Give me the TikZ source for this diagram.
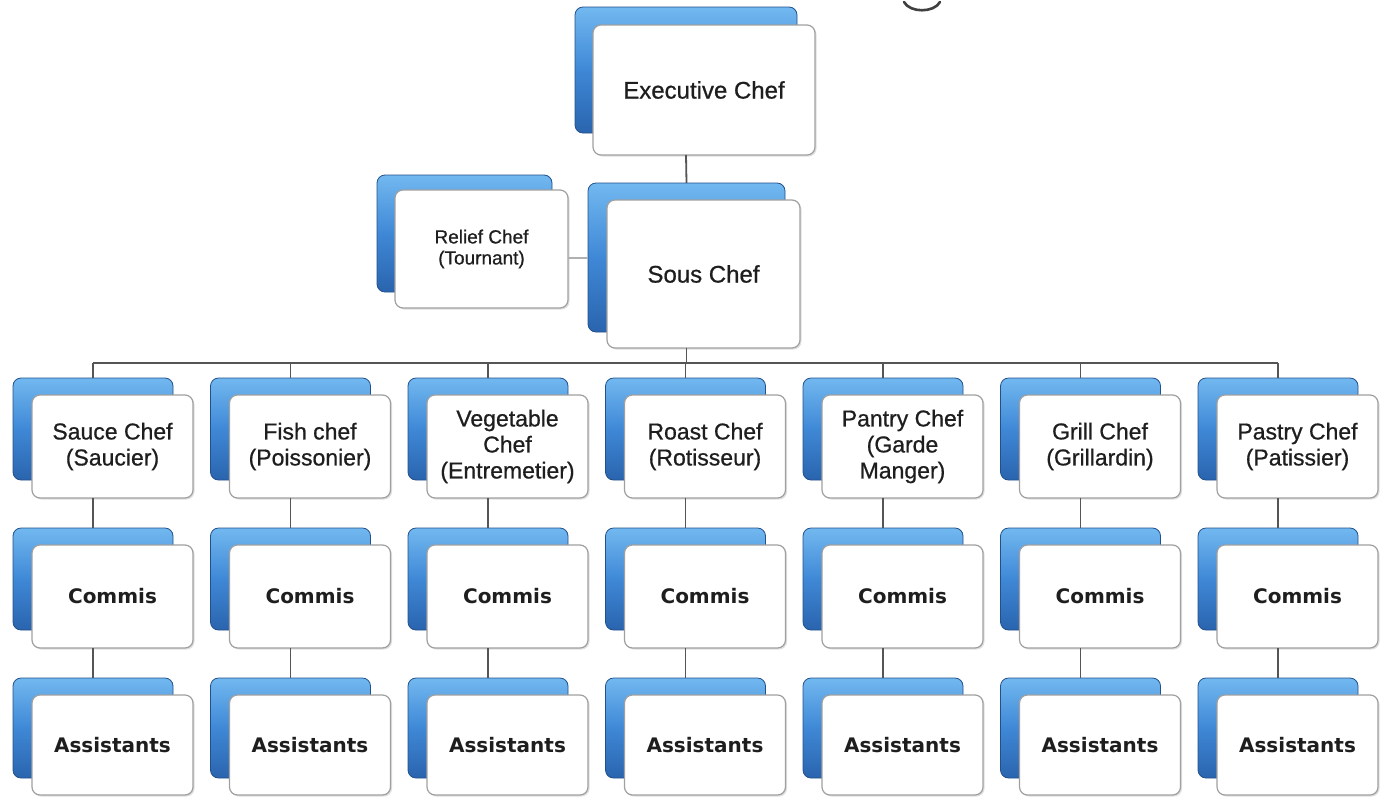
\documentclass[tikz,border=0pt]{standalone}
\usepackage{fontspec}
\setmainfont{Liberation Sans}[FakeBold=0.7]
\newfontfamily\djv{DejaVu Sans}
\usetikzlibrary{shadows}
\definecolor{bluetop}{HTML}{72B8F0}
\definecolor{bluemid}{HTML}{3F88D6}
\definecolor{bluebot}{HTML}{2A64AE}
\definecolor{edgegray}{HTML}{A0A0A0}
\definecolor{linegray}{HTML}{555555}
\definecolor{lightline}{HTML}{B0B0B0}
\definecolor{textgray}{HTML}{1E1E1E}
\tikzset{
  backbox/.style={rounded corners=8pt, inner sep=0pt, outer sep=0pt,
    top color=bluetop, bottom color=bluebot, middle color=bluemid,
    draw=bluebot!80!black, line width=0.8pt},
  frontbox/.style={rounded corners=8pt, inner sep=0pt, outer sep=0pt,
    fill=white, draw=edgegray, line width=1.2pt, align=center, text=textgray,
    drop shadow={opacity=0.25, shadow xshift=1.5pt, shadow yshift=-1.5pt}},
  bigtext/.style={font=\fontsize{24}{28}\selectfont},
  cheftext/.style={font=\fontsize{23}{26}\selectfont},
  relieftext/.style={font=\fontsize{19}{21}\selectfont},
  lowtext/.style={font=\djv\bfseries\fontsize{20}{24}\selectfont},
  conn/.style={draw=linegray, line width=1.8pt},
  lconn/.style={draw=lightline, line width=1.4pt},
}
\begin{document}
\begin{tikzpicture}[x=1pt, y=-1pt]
\useasboundingbox[fill=white] (0,0) rectangle (1384,798);

% Executive chef
\node[backbox, minimum width=222pt, minimum height=126pt] (execback) at (686,70) {};
\node[frontbox, bigtext, minimum width=222pt, minimum height=130pt] (exec) at (704,90) {Executive Chef};

% Sous chef
\node[backbox, minimum width=197pt, minimum height=149pt] (sousback) at (686.5,257.5) {};
\node[frontbox, bigtext, minimum width=193pt, minimum height=148pt] (sous) at (703.5,274) {Sous Chef};

% Relief chef
\node[backbox, minimum width=175pt, minimum height=117pt] (reliefback) at (464.5,233.5) {};
\node[frontbox, relieftext, minimum width=173pt, minimum height=118pt] (relief) at (481.5,249) {Relief Chef\\(Tournant)};

% connectors top
\draw[conn] (execback.south |- exec.south) -- (sousback.north);
\draw[lconn] (relief.east |- 0,258) -- (sousback.west |- 0,258);
\coordinate (bus) at (686,363);

% columns
\foreach \i/\t in {1/{Sauce Chef\\(Saucier)}, 2/{Fish chef\\(Poissonier)},
  3/{Vegetable\\Chef\\(Entremetier)}, 4/{Roast Chef\\(Rotisseur)},
  5/{Pantry Chef\\(Garde\\Manger)}, 6/{Grill Chef\\(Grillardin)},
  7/{Pastry Chef\\(Patissier)}} {
  \pgfmathsetmacro{\cx}{93+197.5*(\i-1)}
  \node[backbox, minimum width=160pt, minimum height=102pt] (cb\i) at (\cx,429) {};
  \node[frontbox, cheftext, minimum width=161pt, minimum height=103pt] (cf\i) at (\cx+19.5,446.5) {\t};
  \node[backbox, minimum width=160pt, minimum height=102pt] (mb\i) at (\cx,579) {};
  \node[frontbox, lowtext, minimum width=161pt, minimum height=103pt] (mf\i) at (\cx+19.5,596.5) {Commis};
  \node[backbox, minimum width=160pt, minimum height=100pt] (ab\i) at (\cx,728) {};
  \node[frontbox, lowtext, minimum width=161pt, minimum height=100pt] (af\i) at (\cx+19.5,745) {Assistants};
  \draw[conn] (cb\i.north) -- (cb\i.north |- bus);
  \draw[conn] (cb\i.south |- cf\i.south) -- (mb\i.north);
  \draw[conn] (mb\i.south |- mf\i.south) -- (ab\i.north);
}

\draw[conn] (sousback.south |- sous.south) -- (sousback.south |- bus);
\draw[conn] (cb1.north |- bus) -- (cb7.north |- bus);

% cut-off glyph at top right
\draw[line width=2.6pt, draw=black!75, line cap=round] (904,2) .. controls (910,13) and (934,13) .. (940,2);
\end{tikzpicture}
\end{document}
